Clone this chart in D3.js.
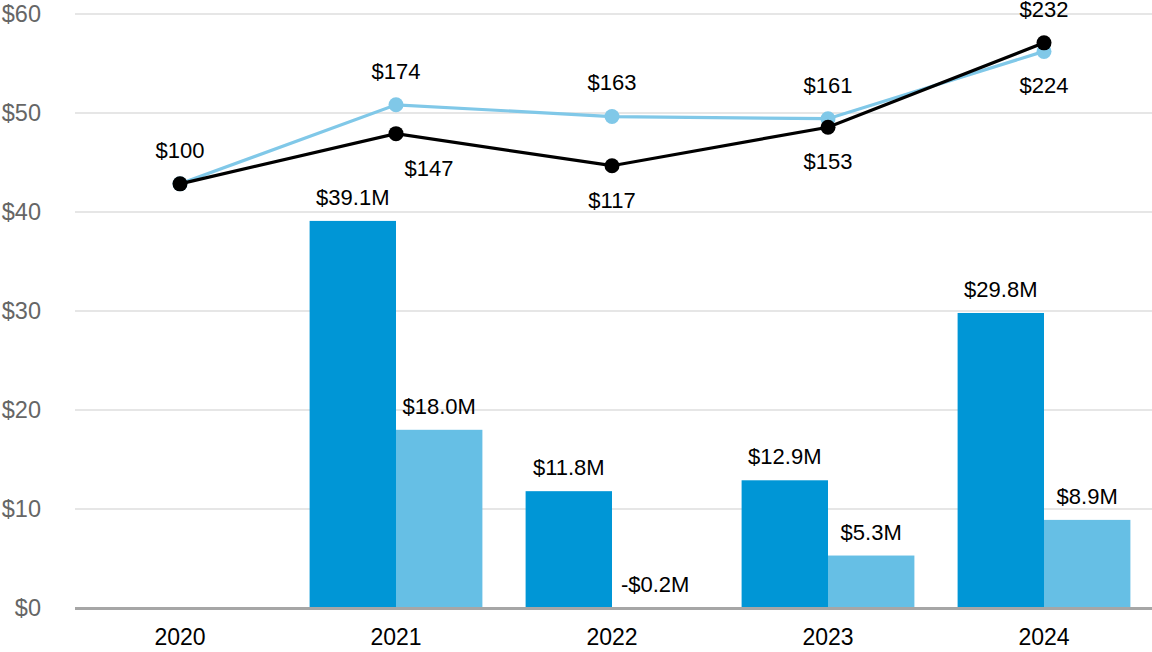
<!DOCTYPE html>
<html><head><meta charset="utf-8">
<script src="https://cdn.jsdelivr.net/npm/d3@7"></script>
<style>
html,body{margin:0;padding:0;background:#fff;}
svg{display:block;font-family:"Liberation Sans",Arial,sans-serif;}
</style></head>
<body>
<svg id="chart" width="1152" height="652"></svg>
<script>
const years = ["2020","2021","2022","2023","2024"];
const barDark = [null, 39.1, 11.8, 12.9, 29.8];
const barLight = [null, 18.0, -0.2, 5.3, 8.9];
const lineLight = [100, 174, 163, 161, 224];
const lineBlack = [100, 147, 117, 153, 232];
const yTicks = [0, 10, 20, 30, 40, 50, 60];
const lightLabelPos = ["above","above","above","above","below"];
const blackLabelPos = [null,"below","below","below","above"];
const blackLabelDx = [0, 33, 0, 0, 0];

const svg = d3.select("#chart");
const x = d3.scaleBand().domain(years).range([72, 1152]).padding(0);
const sub = d3.scaleBand().domain(["dark","light"]).range([x.bandwidth()*0.1, x.bandwidth()*0.9]).padding(0);
const y = d3.scaleLinear().domain([0, 60]).range([608, 14]);
const yIdx = d3.scaleLinear().domain([-297, 259]).range([608, 14]);

// gridlines
svg.append("g").selectAll("line").data(yTicks.filter(d=>d>0)).join("line")
  .attr("x1", 75).attr("x2", 1152)
  .attr("y1", d=>y(d)).attr("y2", d=>y(d))
  .attr("stroke", "#e6e6e6").attr("stroke-width", 2);

// y labels
svg.append("g").selectAll("text").data(yTicks).join("text")
  .attr("x", 41).attr("y", d=>y(d)).attr("dy", "0.36em")
  .attr("text-anchor", "end").attr("fill", "#666").attr("font-size", 23.5)
  .text(d=>"$"+d);

// x labels
svg.append("g").selectAll("text").data(years).join("text")
  .attr("x", d=>x(d)+x.bandwidth()/2).attr("y", 645)
  .attr("text-anchor", "middle").attr("fill", "#000").attr("font-size", 23)
  .text(d=>d);

// bars
const bars = [];
years.forEach((yr,i)=>{
  if (barDark[i]!=null) bars.push({yr, k:"dark", v:barDark[i]});
  if (barLight[i]!=null) bars.push({yr, k:"light", v:barLight[i]});
});
const color = {dark:"#0096d6", light:"#66bfe5"};
svg.append("g").selectAll("rect").data(bars).join("rect")
  .attr("x", d=>x(d.yr)+sub(d.k)).attr("width", sub.bandwidth())
  .attr("y", d=>y(Math.max(d.v,0))).attr("height", d=>Math.abs(y(d.v)-y(0)))
  .attr("fill", d=>color[d.k]);

const fmtM = v => (v<0?"-$":"$")+Math.abs(v).toFixed(1)+"M";
svg.append("g").selectAll("text").data(bars).join("text")
  .attr("x", d=>x(d.yr)+sub(d.k)+sub.bandwidth()/2)
  .attr("y", d=>y(Math.max(d.v,0))-16)
  .attr("text-anchor","middle").attr("font-size",22).attr("fill","#000")
  .text(d=>fmtM(d.v));

// baseline
svg.append("line").attr("x1",75).attr("x2",1152).attr("y1",y(0)+0.5).attr("y2",y(0)+0.5)
  .attr("stroke","#a6a6a6").attr("stroke-width",3);

// lines
const cx = yr => x(yr)+x.bandwidth()/2;
const line = d3.line().x((d,i)=>cx(years[i])).y(d=>yIdx(d));
function drawSeries(vals, col){
  svg.append("path").datum(vals).attr("d", line)
    .attr("fill","none").attr("stroke",col).attr("stroke-width",3.2);
  svg.append("g").selectAll("circle").data(vals).join("circle")
    .attr("cx",(d,i)=>cx(years[i])).attr("cy",d=>yIdx(d)).attr("r",7.5)
    .attr("fill",col);
}
drawSeries(lineLight, "#80c8e8");
drawSeries(lineBlack, "#000");

function drawLabels(vals, pos, dxs){
  svg.append("g").selectAll("text").data(vals.map((v,i)=>({v,i})).filter(d=>pos[d.i]))
    .join("text")
    .attr("x", d=>cx(years[d.i]) + (dxs?dxs[d.i]:0))
    .attr("y", d=>yIdx(d.v) + (pos[d.i]==="above" ? -34 : 34))
    .attr("dy","0.36em")
    .attr("text-anchor","middle").attr("font-size",22).attr("fill","#000")
    .text(d=>"$"+d.v);
}
drawLabels(lineLight, lightLabelPos, null);
drawLabels(lineBlack, blackLabelPos, blackLabelDx);
</script>
</body></html>
